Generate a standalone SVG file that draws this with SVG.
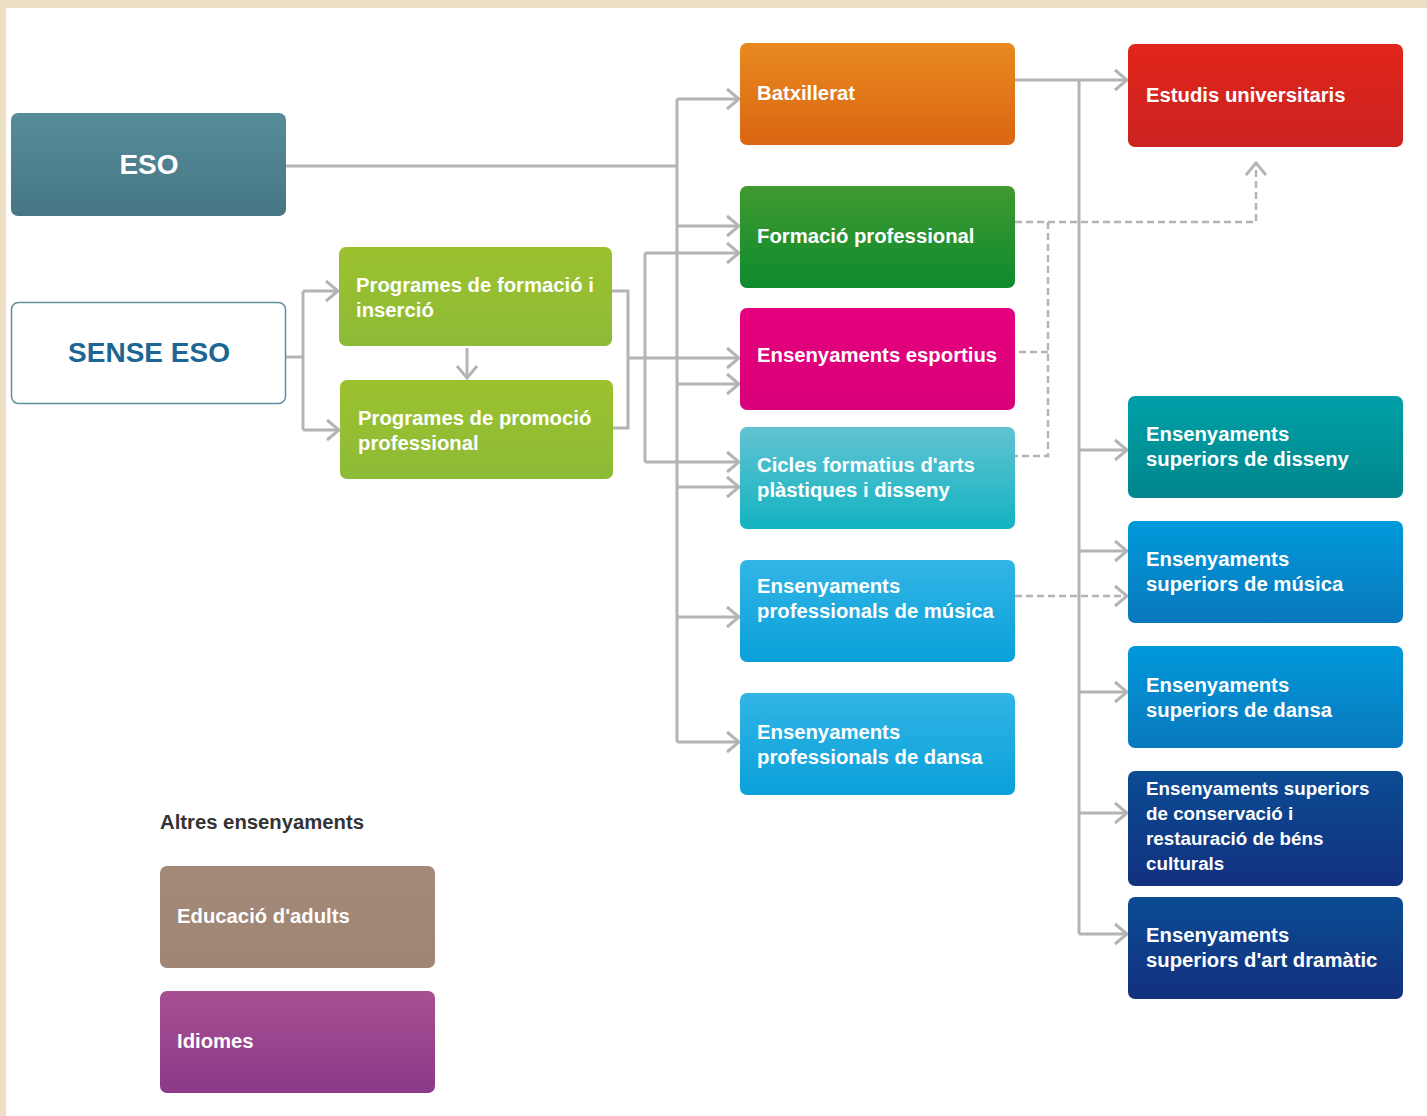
<svg xmlns="http://www.w3.org/2000/svg" width="1427" height="1116" viewBox="0 0 1427 1116">
<style>
.t{font-family:"Liberation Sans",Arial,sans-serif;font-weight:bold;font-size:20.3px;fill:#ffffff}
.big{font-size:28px;text-anchor:middle}
.c{fill:none;stroke:#b4b4b4;stroke-width:3}
.d{fill:none;stroke:#b4b4b4;stroke-width:2.5;stroke-dasharray:7 4}
.a{marker-end:url(#arr)}
</style>
<defs>
<marker id="arr" viewBox="-15 -12 17 24" refX="0" refY="0" markerWidth="17" markerHeight="24" markerUnits="userSpaceOnUse" orient="auto">
<path d="M-12,-10 L0,0 L-12,10" fill="none" stroke="#b4b4b4" stroke-width="3"/>
</marker>
<linearGradient id="gEso" x1="0" y1="0" x2="0" y2="1"><stop offset="0" stop-color="#578c9b"/><stop offset="1" stop-color="#467684"/></linearGradient>
<linearGradient id="gLime" x1="0" y1="0" x2="0" y2="1"><stop offset="0" stop-color="#9cc12e"/><stop offset="1" stop-color="#8dbb37"/></linearGradient>
<linearGradient id="gOr" x1="0" y1="0" x2="0" y2="1"><stop offset="0" stop-color="#e88a20"/><stop offset="1" stop-color="#db6513"/></linearGradient>
<linearGradient id="gGr" x1="0" y1="0" x2="0" y2="1"><stop offset="0" stop-color="#409a30"/><stop offset="1" stop-color="#0e8a2d"/></linearGradient>
<linearGradient id="gMag" x1="0" y1="0" x2="0" y2="1"><stop offset="0" stop-color="#e6007e"/><stop offset="1" stop-color="#d90079"/></linearGradient>
<linearGradient id="gCy" x1="0" y1="0" x2="0" y2="1"><stop offset="0" stop-color="#62c3d2"/><stop offset="1" stop-color="#13b3c2"/></linearGradient>
<linearGradient id="gSky" x1="0" y1="0" x2="0" y2="1"><stop offset="0" stop-color="#33b5e6"/><stop offset="1" stop-color="#09a0d9"/></linearGradient>
<linearGradient id="gRed" x1="0" y1="0" x2="0" y2="1"><stop offset="0" stop-color="#e1251b"/><stop offset="1" stop-color="#cb2220"/></linearGradient>
<linearGradient id="gTeal" x1="0" y1="0" x2="0" y2="1"><stop offset="0" stop-color="#00a0a8"/><stop offset="1" stop-color="#00868c"/></linearGradient>
<linearGradient id="gBlue" x1="0" y1="0" x2="0" y2="1"><stop offset="0" stop-color="#0099da"/><stop offset="1" stop-color="#0a78bd"/></linearGradient>
<linearGradient id="gNavy" x1="0" y1="0" x2="0" y2="1"><stop offset="0" stop-color="#0b4c94"/><stop offset="1" stop-color="#12307e"/></linearGradient>
<linearGradient id="gBrown" x1="0" y1="0" x2="0" y2="1"><stop offset="0" stop-color="#a38978"/><stop offset="1" stop-color="#9e8574"/></linearGradient>
<linearGradient id="gPur" x1="0" y1="0" x2="0" y2="1"><stop offset="0" stop-color="#a84f92"/><stop offset="1" stop-color="#8b3a89"/></linearGradient>
</defs>

<rect x="0" y="0" width="1427" height="1116" fill="#ecdfc3"/>
<rect x="6" y="8" width="1421" height="1108" fill="#ffffff"/>

<g id="connectors">
<path class="c" d="M286,166 H677"/>
<path class="c" d="M677,99 V742"/>
<path class="c a" d="M677,99 H739"/>
<path class="c a" d="M677,226 H739"/>
<path class="c a" d="M677,384 H739"/>
<path class="c a" d="M677,487 H739"/>
<path class="c a" d="M677,617 H739"/>
<path class="c a" d="M677,742 H739"/>
<path class="c" d="M286,357 H303"/>
<path class="c" d="M303,291 V430"/>
<path class="c a" d="M303,291 H338"/>
<path class="c a" d="M303,430 H339"/>
<path class="c a" d="M467,348 V378"/>
<path class="c" d="M612,291 H628 V428 H613"/>
<path class="c a" d="M628,358 H739"/>
<path class="c" d="M645,253 V462"/>
<path class="c a" d="M645,253 H739"/>
<path class="c a" d="M645,462 H739"/>
<path class="c a" d="M1015,80 H1127"/>
<path class="c" d="M1079,80 V934"/>
<path class="c a" d="M1079,450 H1127"/>
<path class="c a" d="M1079,551 H1127"/>
<path class="c a" d="M1079,692 H1127"/>
<path class="c a" d="M1079,813 H1127"/>
<path class="c a" d="M1079,934 H1127"/>
<path class="d a" d="M1015,222 H1256 V163"/>
<path class="d" d="M1048,222 V456 H1015"/>
<path class="d" d="M1048,352 H1015"/>
<path class="d a" d="M1015,596 H1127"/>
</g>

<g id="eso"><rect x="11" y="113" width="275" height="103" rx="7" fill="url(#gEso)"/><text class="t big" x="149" y="174">ESO</text></g>
<g id="sense-eso"><rect x="11.5" y="302.5" width="274" height="101" rx="7" fill="#ffffff" stroke="#5f8e9c" stroke-width="1.5"/><text class="t big" x="149" y="362" style="fill:#1d6594">SENSE ESO</text></g>
<g id="pfi"><rect x="339" y="247" width="273" height="99" rx="7" fill="url(#gLime)"/><text class="t" x="356" y="292">Programes de formació i</text><text class="t" x="356" y="317">inserció</text></g>
<g id="ppp"><rect x="340" y="380" width="273" height="99" rx="7" fill="url(#gLime)"/><text class="t" x="358" y="425">Programes de promoció</text><text class="t" x="358" y="450">professional</text></g>
<g id="batxillerat"><rect x="740" y="43" width="275" height="102" rx="7" fill="url(#gOr)"/><text class="t" x="757" y="100">Batxillerat</text></g>
<g id="fp"><rect x="740" y="186" width="275" height="102" rx="7" fill="url(#gGr)"/><text class="t" x="757" y="243">Formació professional</text></g>
<g id="esportius"><rect x="740" y="308" width="275" height="102" rx="7" fill="url(#gMag)"/><text class="t" x="757" y="362">Ensenyaments esportius</text></g>
<g id="cicles"><rect x="740" y="427" width="275" height="102" rx="7" fill="url(#gCy)"/><text class="t" x="757" y="472">Cicles formatius d'arts</text><text class="t" x="757" y="497">plàstiques i disseny</text></g>
<g id="prof-musica"><rect x="740" y="560" width="275" height="102" rx="7" fill="url(#gSky)"/><text class="t" x="757" y="593">Ensenyaments</text><text class="t" x="757" y="618">professionals de música</text></g>
<g id="prof-dansa"><rect x="740" y="693" width="275" height="102" rx="7" fill="url(#gSky)"/><text class="t" x="757" y="739">Ensenyaments</text><text class="t" x="757" y="764">professionals de dansa</text></g>
<g id="universitaris"><rect x="1128" y="44" width="275" height="103" rx="7" fill="url(#gRed)"/><text class="t" x="1146" y="102">Estudis universitaris</text></g>
<g id="sup-disseny"><rect x="1128" y="396" width="275" height="102" rx="7" fill="url(#gTeal)"/><text class="t" x="1146" y="441">Ensenyaments</text><text class="t" x="1146" y="466">superiors de disseny</text></g>
<g id="sup-musica"><rect x="1128" y="521" width="275" height="102" rx="7" fill="url(#gBlue)"/><text class="t" x="1146" y="566">Ensenyaments</text><text class="t" x="1146" y="591">superiors de música</text></g>
<g id="sup-dansa"><rect x="1128" y="646" width="275" height="102" rx="7" fill="url(#gBlue)"/><text class="t" x="1146" y="692">Ensenyaments</text><text class="t" x="1146" y="717">superiors de dansa</text></g>
<g id="sup-conservacio"><rect x="1128" y="771" width="275" height="115" rx="7" fill="url(#gNavy)"/><text class="t" x="1146" y="795" style="font-size:18.8px">Ensenyaments superiors</text><text class="t" x="1146" y="820" style="font-size:18.8px">de conservació i</text><text class="t" x="1146" y="845" style="font-size:18.8px">restauració de béns</text><text class="t" x="1146" y="870" style="font-size:18.8px">culturals</text></g>
<g id="sup-dramatic"><rect x="1128" y="897" width="275" height="102" rx="7" fill="url(#gNavy)"/><text class="t" x="1146" y="942">Ensenyaments</text><text class="t" x="1146" y="967">superiors d'art dramàtic</text></g>
<g id="altres"><text class="t" x="160" y="829" style="fill:#333333">Altres ensenyaments</text></g>
<g id="adults"><rect x="160" y="866" width="275" height="102" rx="7" fill="url(#gBrown)"/><text class="t" x="177" y="923">Educació d'adults</text></g>
<g id="idiomes"><rect x="160" y="991" width="275" height="102" rx="7" fill="url(#gPur)"/><text class="t" x="177" y="1048">Idiomes</text></g>
</svg>
